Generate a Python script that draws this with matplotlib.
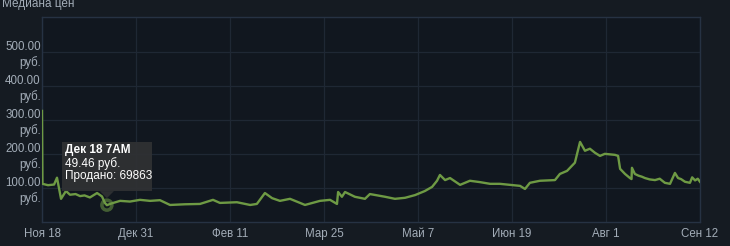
import matplotlib
matplotlib.use("Agg")
import matplotlib.pyplot as plt
import matplotlib.transforms as mtransforms
from matplotlib.patches import Rectangle, Polygon, Circle

# days since Nov 18, median price in rubles
days = [0, 0.2, 2.7, 5.4, 6.7, 8.5, 10.7, 12.5, 15, 17, 19, 21.4, 24.6, 26.8, 28.1, 29,
        31.3, 34.9, 39.3, 43.8, 48.3, 52.7, 57.2, 63.9, 70.6, 76.4, 79.5, 87.1,
        93, 96, 99.6, 102.8, 106.3, 110.8, 115.3, 117.5, 124.2, 128.7, 131.8,
        132.3, 134, 135.4, 139.8, 144.3, 146.5, 153.3, 157.7, 162.2, 166.7,
        171.1, 174.3, 176.5, 177.8, 180.1, 182.3, 186.8, 191.2, 195.7, 200.2,
        204.6, 213.6, 215.8, 218, 222.5, 229.2, 231.4, 234.6, 238.1, 240.4,
        242.6, 244.8, 247.1, 249.3, 251.5, 256, 257.4, 258.3, 260.5, 262.7,
        263.4, 263.6, 264.9, 266.5, 268, 269.4, 271.5, 273.9, 276, 278.3, 280.6,
        282.8, 284.2, 285.5, 287.3, 289.5, 290.5, 291.8, 293, 294]
prices = [326, 112, 108, 110, 130, 68, 91, 80, 82, 76, 78, 72, 85, 75, 56, 49.46,
          55, 62, 60, 65, 62, 64, 50, 52, 53, 65, 56, 58,
          50, 53, 85, 70, 62, 68, 56, 50, 62, 65, 53,
          88, 74, 88, 74, 68, 82, 74, 68, 71, 79,
          91, 103, 121, 138, 123, 129, 109, 121, 117, 112,
          112, 106, 97, 115, 121, 123, 141, 150, 174, 235,
          209, 215, 203, 194, 200, 197, 194, 156, 141, 129,
          126, 159, 141, 136, 133, 129, 125, 123, 127, 115, 112,
          144, 129, 126, 118, 115, 131, 122, 127, 118]

tick_days = [0, 42, 84, 126, 168, 210, 252, 294]
tick_labels = ["Ноя 18", "Дек 31", "Фев 11", "Мар 25", "Май 7", "Июн 19", "Авг 1", "Сен 12"]
y_ticks = [100, 200, 300, 400, 500]

tip_day, tip_price = 29, 49.46
tip_lines = ["Дек 18 7AM", "49.46 руб.", "Продано: 69863"]

bg = "#151b22"
grid_c = "#1f2834"
text_c = "#a3adb8"
line_c = "#6e9a44"

plt.rcParams["font.family"] = ["Liberation Sans", "DejaVu Sans"]

fig = plt.figure(figsize=(7.30, 2.46), dpi=100, facecolor=bg)
ax = fig.add_axes([42 / 730, 24 / 246, 658 / 730, 205.5 / 246])
ax.set_facecolor("#11171f")

ax.plot(days, prices, color=line_c, lw=1.7, solid_joinstyle="round", zorder=3)

ax.set_xlim(0, 294)
ax.set_ylim(0, 603)
ax.set_xticks(tick_days)
ax.set_xticklabels(tick_labels)
ax.set_yticks(y_ticks)
ax.set_yticklabels([f"{v:.2f}\nруб." for v in y_ticks], linespacing=1.3, ha="right")
ax.tick_params(axis="both", length=0, labelsize=8.3, colors=text_c)
ax.tick_params(axis="x", pad=4)
ax.tick_params(axis="y", pad=1)
ax.grid(True, color=grid_c, lw=0.9)
for s in ax.spines.values():
    s.set_color("#263243")
    s.set_linewidth(1)

fig.text(2 / 730, 1 - 7.5 / 246, "Медиана цен", color=text_c, fontsize=8.5,
         va="baseline", ha="left")

# tooltip, in pixels relative to the hovered point
tr = mtransforms.Affine2D() + mtransforms.ScaledTranslation(tip_day, tip_price, ax.transData)
ax.add_patch(Circle((0, 0), 5, transform=tr, fill=False, ec=line_c, lw=2.5,
                    alpha=0.55, zorder=4, clip_on=False))
ax.add_patch(Rectangle((-45, 14), 90, 49, transform=tr, fc="#2f3133", ec="none",
                       alpha=0.95, zorder=5, clip_on=False))
ax.add_patch(Polygon([(-7, 14), (7, 14), (0, 7)], closed=True, transform=tr,
                     fc="#2f3133", ec="none", alpha=0.95, zorder=5, clip_on=False))
for i, txt in enumerate(tip_lines):
    ax.text(-42, 55 - i * 13, txt, transform=tr, color="white", fontsize=8.5,
            fontweight="bold" if i == 0 else "normal", va="center", ha="left",
            zorder=6, clip_on=False)

fig.savefig("out.png", dpi=100, facecolor=bg)
